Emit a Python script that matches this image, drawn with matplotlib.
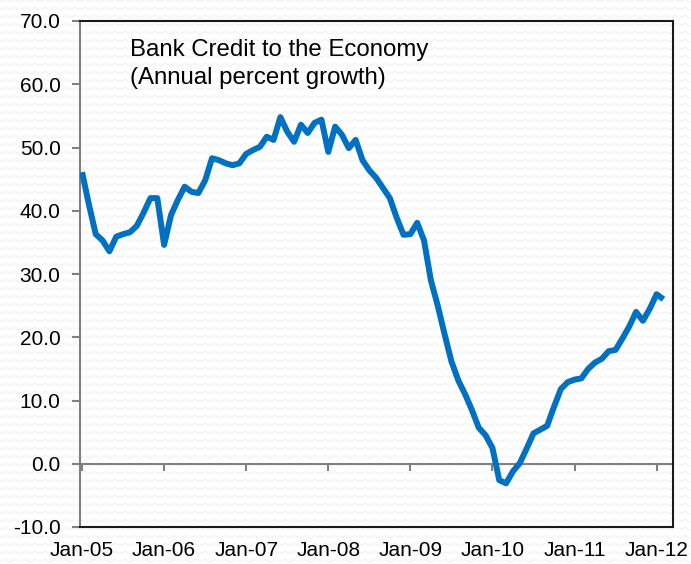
import numpy as np
import matplotlib
matplotlib.use("Agg")
import matplotlib.pyplot as plt
from matplotlib.ticker import FuncFormatter

plt.rcParams['font.family'] = ['Liberation Sans', 'DejaVu Sans']
plt.rcParams['axes.unicode_minus'] = False

# monthly annual growth of bank credit, Jan-05 .. Feb-12
growth = [
    46.1, 41.0, 36.3, 35.3, 33.6, 35.9, 36.3, 36.6, 37.6, 39.7, 42.0, 42.0,   # 2005
    34.6, 39.3, 41.7, 43.8, 43.0, 42.8, 44.8, 48.3, 48.0, 47.5, 47.2, 47.5,   # 2006
    49.0, 49.6, 50.1, 51.7, 51.2, 54.8, 52.5, 50.9, 53.6, 52.3, 53.9, 54.4,   # 2007
    49.3, 53.3, 52.0, 49.9, 51.2, 48.0, 46.4, 45.2, 43.6, 42.0, 38.9, 36.2,   # 2008
    36.3, 38.1, 35.3, 29.0, 25.0, 20.5, 16.2, 13.2, 11.0, 8.5, 5.7, 4.5,      # 2009
    2.5, -2.6, -3.1, -1.2, 0.1, 2.4, 4.8, 5.4, 6.0, 9.0, 11.8, 12.9,          # 2010
    13.3, 13.5, 15.0, 16.0, 16.6, 17.8, 18.0, 19.8, 21.7, 24.0, 22.6, 24.5,   # 2011
    26.8, 26.0,                                                               # 2012
]
year_labels = ["Jan-05", "Jan-06", "Jan-07", "Jan-08", "Jan-09", "Jan-10", "Jan-11", "Jan-12"]
y_ticks = [-10, 0, 10, 20, 30, 40, 50, 60, 70]

months = np.arange(len(growth))
year_pos = [12 * k for k in range(len(year_labels))]

fig = plt.figure(figsize=(6.91, 5.64), dpi=100)
fig.patch.set_facecolor("white")

# faint zigzag texture of the background
bg = fig.add_axes([0, 0, 1, 1], zorder=-5)
bg.set_xlim(0, 691)
bg.set_ylim(0, 564)
bg.axis("off")
zx = np.arange(0, 700, 5.0)
zy = np.where((np.arange(len(zx)) % 2) == 0, 0.0, 2.5)
for row in np.arange(2, 570, 8):
    bg.plot(zx, zy + row, color="#f1f1f1", lw=0.7)

ax = fig.add_axes([80 / 691, 37 / 564, 593 / 691, 506 / 564])
ax.set_facecolor("none")

ax.plot(months, growth, color="#0070C0", lw=4.3, solid_joinstyle="round",
        solid_capstyle="butt", zorder=3)

ax.set_xlim(-0.3, 86.4)
ax.set_ylim(-10, 70)
ax.set_yticks(y_ticks)
ax.yaxis.set_major_formatter(FuncFormatter(lambda v, p: f"{v:.1f}"))
ax.tick_params(axis="y", direction="out", length=6, width=1.5, color="#808080",
               labelsize=15, pad=8)

ax.set_xticks(year_pos)
ax.set_xticklabels(year_labels)
ax.tick_params(axis="x", length=0, labelsize=15, pad=10)

ax.spines["left"].set_color("#808080")
for side in ["top", "right", "bottom"]:
    ax.spines[side].set_color("#1a1a1a")
for side in ax.spines:
    ax.spines[side].set_linewidth(1.5)

# zero line with year ticks
zero = ax.secondary_xaxis(10 / 80)
zero.set_xticks(year_pos)
zero.set_xticklabels([])
zero.spines["bottom"].set_color("#808080")
zero.spines["bottom"].set_linewidth(1.5)
zero.tick_params(axis="x", direction="out", length=5, width=1.5, color="#808080")

ax.text(0.084, 0.965, "Bank Credit to the Economy\n(Annual percent growth)",
        transform=ax.transAxes, ha="left", va="top", fontsize=17.3, linespacing=1.38)

fig.savefig("out.png", dpi=100, facecolor=fig.get_facecolor())
